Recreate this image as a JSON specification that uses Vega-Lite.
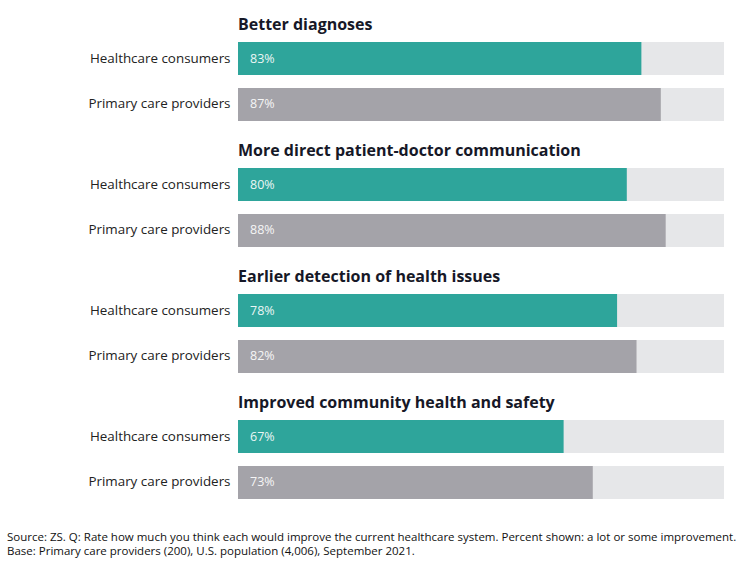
{
  "$schema": "https://vega.github.io/schema/vega-lite/v6.json",
  "padding": {"left": 7, "top": 17, "right": 26, "bottom": 5},
  "background": "white",
  "data": {"values": [
    {"group": "Better diagnoses", "who": "Healthcare consumers", "value": 0.83},
    {"group": "Better diagnoses", "who": "Primary care providers", "value": 0.87},
    {"group": "More direct patient-doctor communication", "who": "Healthcare consumers", "value": 0.80},
    {"group": "More direct patient-doctor communication", "who": "Primary care providers", "value": 0.88},
    {"group": "Earlier detection of health issues", "who": "Healthcare consumers", "value": 0.78},
    {"group": "Earlier detection of health issues", "who": "Primary care providers", "value": 0.82},
    {"group": "Improved community health and safety", "who": "Healthcare consumers", "value": 0.67},
    {"group": "Improved community health and safety", "who": "Primary care providers", "value": 0.73}
  ]},
  "title": {
    "text": ["Source: ZS. Q: Rate how much you think each would improve the current healthcare system. Percent shown: a lot or some improvement.", "Base: Primary care providers (200), U.S. population (4,006), September 2021."],
    "orient": "bottom",
    "anchor": "start",
    "frame": "bounds",
    "font": "Open Sans",
    "fontSize": 11.5,
    "fontWeight": "normal",
    "color": "#111111",
    "lineHeight": 14,
    "offset": 33
  },
  "spacing": 22,
  "config": {
    "view": {"stroke": null},
    "font": "Open Sans",
    "title": {"font": "Open Sans", "fontSize": 16, "fontWeight": "bold", "color": "#161827", "anchor": "start", "frame": "group", "offset": 9}
  },
  "vconcat": [
    {"title": "Better diagnoses", "transform": [{"filter": "datum.group === 'Better diagnoses'"}], "width": 486, "height": 79,
     "encoding": {"y": {"field": "who", "type": "nominal", "scale": {"paddingInner": 0.28, "paddingOuter": 0}, "axis": {"title": null, "domain": false, "ticks": false, "labelFontSize": 13.4, "labelColor": "#222222", "labelPadding": 8, "labelFont": "Open Sans", "minExtent": 231, "labelLimit": 300}}},
     "layer": [
       {"mark": {"type": "bar", "color": "#e6e7e9"}, "encoding": {"x": {"datum": 1, "type": "quantitative", "scale": {"domain": [0, 1]}, "axis": null}}},
       {"mark": {"type": "bar"}, "encoding": {"x": {"field": "value", "type": "quantitative"}, "color": {"field": "who", "type": "nominal", "scale": {"domain": ["Healthcare consumers", "Primary care providers"], "range": ["#2ea59b", "#a4a3a9"]}, "legend": null}}},
       {"mark": {"type": "text", "align": "left", "dx": 12, "fontSize": 12.5, "color": "#ffffff", "opacity": 0.9}, "encoding": {"x": {"datum": 0, "type": "quantitative"}, "text": {"field": "value", "format": ".0%"}}}
     ]},
    {"title": "More direct patient-doctor communication", "transform": [{"filter": "datum.group === 'More direct patient-doctor communication'"}], "width": 486, "height": 79,
     "encoding": {"y": {"field": "who", "type": "nominal", "scale": {"paddingInner": 0.28, "paddingOuter": 0}, "axis": {"title": null, "domain": false, "ticks": false, "labelFontSize": 13.4, "labelColor": "#222222", "labelPadding": 8, "labelFont": "Open Sans", "minExtent": 231, "labelLimit": 300}}},
     "layer": [
       {"mark": {"type": "bar", "color": "#e6e7e9"}, "encoding": {"x": {"datum": 1, "type": "quantitative", "scale": {"domain": [0, 1]}, "axis": null}}},
       {"mark": {"type": "bar"}, "encoding": {"x": {"field": "value", "type": "quantitative"}, "color": {"field": "who", "type": "nominal", "scale": {"domain": ["Healthcare consumers", "Primary care providers"], "range": ["#2ea59b", "#a4a3a9"]}, "legend": null}}},
       {"mark": {"type": "text", "align": "left", "dx": 12, "fontSize": 12.5, "color": "#ffffff", "opacity": 0.9}, "encoding": {"x": {"datum": 0, "type": "quantitative"}, "text": {"field": "value", "format": ".0%"}}}
     ]},
    {"title": "Earlier detection of health issues", "transform": [{"filter": "datum.group === 'Earlier detection of health issues'"}], "width": 486, "height": 79,
     "encoding": {"y": {"field": "who", "type": "nominal", "scale": {"paddingInner": 0.28, "paddingOuter": 0}, "axis": {"title": null, "domain": false, "ticks": false, "labelFontSize": 13.4, "labelColor": "#222222", "labelPadding": 8, "labelFont": "Open Sans", "minExtent": 231, "labelLimit": 300}}},
     "layer": [
       {"mark": {"type": "bar", "color": "#e6e7e9"}, "encoding": {"x": {"datum": 1, "type": "quantitative", "scale": {"domain": [0, 1]}, "axis": null}}},
       {"mark": {"type": "bar"}, "encoding": {"x": {"field": "value", "type": "quantitative"}, "color": {"field": "who", "type": "nominal", "scale": {"domain": ["Healthcare consumers", "Primary care providers"], "range": ["#2ea59b", "#a4a3a9"]}, "legend": null}}},
       {"mark": {"type": "text", "align": "left", "dx": 12, "fontSize": 12.5, "color": "#ffffff", "opacity": 0.9}, "encoding": {"x": {"datum": 0, "type": "quantitative"}, "text": {"field": "value", "format": ".0%"}}}
     ]},
    {"title": "Improved community health and safety", "transform": [{"filter": "datum.group === 'Improved community health and safety'"}], "width": 486, "height": 79,
     "encoding": {"y": {"field": "who", "type": "nominal", "scale": {"paddingInner": 0.28, "paddingOuter": 0}, "axis": {"title": null, "domain": false, "ticks": false, "labelFontSize": 13.4, "labelColor": "#222222", "labelPadding": 8, "labelFont": "Open Sans", "minExtent": 231, "labelLimit": 300}}},
     "layer": [
       {"mark": {"type": "bar", "color": "#e6e7e9"}, "encoding": {"x": {"datum": 1, "type": "quantitative", "scale": {"domain": [0, 1]}, "axis": null}}},
       {"mark": {"type": "bar"}, "encoding": {"x": {"field": "value", "type": "quantitative"}, "color": {"field": "who", "type": "nominal", "scale": {"domain": ["Healthcare consumers", "Primary care providers"], "range": ["#2ea59b", "#a4a3a9"]}, "legend": null}}},
       {"mark": {"type": "text", "align": "left", "dx": 12, "fontSize": 12.5, "color": "#ffffff", "opacity": 0.9}, "encoding": {"x": {"datum": 0, "type": "quantitative"}, "text": {"field": "value", "format": ".0%"}}}
     ]}
  ]
}
